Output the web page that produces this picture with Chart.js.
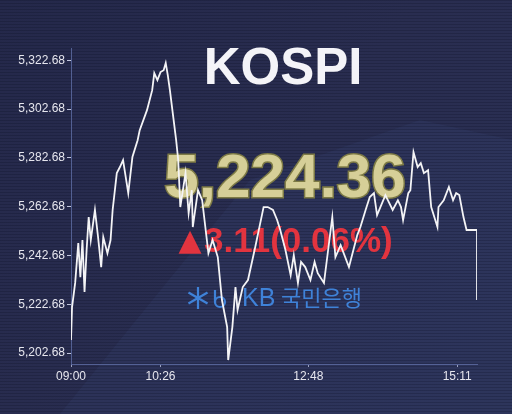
<!DOCTYPE html>
<html><head><meta charset="utf-8">
<script src="https://cdn.jsdelivr.net/npm/chart.js@4.4.1/dist/chart.umd.min.js"></script>
<style>html,body{margin:0;padding:0;background:#272b4b;overflow:hidden}canvas{display:block}</style>
</head><body><canvas id="c" width="512" height="414"></canvas>
<script>
const times = ['09:00','09:01','09:04','09:07','09:09','09:11','09:13','09:15','09:17','09:19','09:23','09:26','09:29','09:31','09:35','09:38','09:40','09:44','09:47','09:50','09:55','09:59','10:04','10:06','10:13','10:18','10:20','10:23','10:26','10:29','10:31','10:33','10:35','10:38','10:41','10:43','10:45','10:50','10:53','10:56','10:57','11:02','11:06','11:12','11:16','11:21','11:25','11:30','11:31','11:35','11:38','11:40','11:45','11:50','11:57','12:05','12:09','12:14','12:18','12:21','12:26','12:31','12:34','12:38','12:41','12:45','12:50','12:54','12:57','13:03','13:07','13:11','13:14','13:19','13:27','13:32','13:35','13:38','13:43','13:47','13:51','13:54','13:58','14:02','14:09','14:14','14:17','14:19','14:24','14:26','14:29','14:33','14:36','14:39','14:43','14:46','14:49','14:52','14:53','14:58','15:03','15:07','15:10','15:13','15:17','15:20','15:30','15:30'];
const values = [5208.0,5221.5,5231.4,5247.7,5233.8,5249.0,5227.7,5244.9,5258.4,5249.0,5261.3,5250.2,5237.9,5250.2,5243.6,5249.0,5261.3,5276.4,5278.9,5281.7,5268.2,5283.0,5289.9,5294.0,5302.2,5310.4,5317.4,5314.5,5317.8,5318.6,5321.5,5316.5,5310.4,5300.2,5289.9,5281.7,5262.5,5276.4,5260.0,5269.4,5254.3,5269.4,5265.3,5243.6,5249.0,5242.0,5224.4,5213.3,5199.8,5213.3,5229.7,5220.3,5229.7,5232.6,5246.1,5262.5,5262.5,5261.3,5257.2,5253.1,5244.9,5234.6,5242.8,5231.4,5240.0,5237.9,5232.6,5240.0,5235.4,5231.4,5244.9,5258.4,5242.0,5246.9,5237.9,5246.1,5251.0,5254.3,5261.3,5266.6,5268.2,5259.2,5263.3,5267.4,5261.3,5265.3,5262.5,5257.2,5268.2,5269.4,5285.0,5278.9,5280.5,5276.4,5277.6,5262.5,5258.4,5254.3,5262.5,5265.3,5270.7,5265.3,5268.2,5267.4,5258.4,5253.1,5253.1,5224.36];
const yTickValues = [5202.68,5222.68,5242.68,5262.68,5282.68,5302.68,5322.68];
const xTickLabels = ['09:00','10:26','12:48','15:11'];
const titleText = 'KOSPI';
const closeText = '5,224.36';
const changeText = '▲3.11(0.06%)';
const bankText = '국민은행';
const bankLatin = 'KB';

const toMin = s => { const [h, m] = s.split(':').map(Number); return (h - 9) * 60 + m; };
const points = times.map((t, i) => ({ x: toMin(t), y: values[i] }));
const xTickMins = xTickLabels.map(toMin);

const bgPlugin = {
  id: 'bg',
  beforeDraw(chart) {
    const ctx = chart.ctx, W = chart.width, H = chart.height;
    ctx.save();
    const g = ctx.createLinearGradient(0, 0, W, H);
    g.addColorStop(0, '#24284a');
    g.addColorStop(0.5, '#292d50');
    g.addColorStop(1, '#2a3054');
    ctx.fillStyle = g;
    ctx.fillRect(0, 0, W, H);
    ctx.beginPath();
    ctx.moveTo(60, H); ctx.lineTo(250, 180); ctx.lineTo(420, 120); ctx.lineTo(512, 140); ctx.lineTo(512, H); ctx.closePath();
    ctx.fillStyle = 'rgba(60,75,130,0.18)';
    ctx.fill();
    ctx.fillStyle = 'rgba(10,12,30,0.22)';
    for (let y = 0; y < H; y += 3) ctx.fillRect(0, y, W, 1);
    ctx.restore();
  }
};

const textPlugin = {
  id: 'texts',
  beforeDatasetsDraw(chart) {
    const ctx = chart.ctx;
    ctx.save();
    ctx.textAlign = 'center';
    ctx.textBaseline = 'middle';
    ctx.fillStyle = '#f4f4f8';
    ctx.font = 'bold 51px "Liberation Sans", Arial, sans-serif';
    ctx.fillText(titleText, 283, 70);
    ctx.font = 'bold 62px "Liberation Sans", Arial, sans-serif';
    ctx.lineWidth = 3;
    ctx.strokeStyle = '#7d7a45';
    ctx.strokeText(closeText, 285, 180);
    ctx.fillStyle = '#d6cf98';
    ctx.fillText(closeText, 285, 180);
    ctx.fillStyle = '#e2343f';
    ctx.textAlign = 'center';
    ctx.font = '30px "DejaVu Sans", sans-serif';
    ctx.fillText(changeText.charAt(0), 190, 242);
    ctx.textAlign = 'left';
    ctx.font = 'bold 35px "Liberation Sans", Arial, sans-serif';
    ctx.fillText(changeText.slice(1), 204, 242);
    ctx.strokeStyle = '#3f82d8';
    ctx.lineWidth = 2.2;
    const cx = 198, cy = 298, r = 11;
    ctx.beginPath();
    for (let k = 0; k < 3; k++) {
      const a = Math.PI / 2 + k * Math.PI / 3;
      ctx.moveTo(cx - r * Math.cos(a), cy - r * Math.sin(a));
      ctx.lineTo(cx + r * Math.cos(a), cy + r * Math.sin(a));
    }
    ctx.stroke();
    ctx.beginPath();
    ctx.arc(220, 302, 5, 0, Math.PI * 2);
    ctx.moveTo(215, 290); ctx.lineTo(215, 302);
    ctx.stroke();
    ctx.fillStyle = '#3f82d8';
    ctx.font = '25px "Liberation Sans", Arial, sans-serif';
    ctx.fillText(bankLatin, 242, 299);
    ctx.font = '22px "Noto Sans CJK KR", sans-serif';
    ctx.fillText(bankText, 281, 298);
    ctx.restore();
  }
};

new Chart(document.getElementById('c'), {
  type: 'line',
  data: {
    datasets: [{
      data: points,
      borderColor: '#f4f4f6',
      borderWidth: 1.8,
      pointRadius: 0,
      tension: 0,
      fill: false
    }]
  },
  options: {
    responsive: false,
    animation: false,
    layout: { padding: { top: 48, right: 35, left: 0, bottom: 0 } },
    plugins: { legend: { display: false }, tooltip: { enabled: false } },
    scales: {
      x: {
        type: 'linear',
        min: 0, max: 390,
        afterBuildTicks(ax) { ax.ticks = xTickMins.map(v => ({ value: v })); },
        afterFit(ax) { ax.height = 50; },
        ticks: {
          autoSkip: false, maxRotation: 0, padding: 2,
          color: '#e6e6ee',
          font: { size: 12, family: '"Liberation Sans", Arial, sans-serif' },
          callback: (v) => xTickLabels[xTickMins.indexOf(v)]
        },
        grid: { drawOnChartArea: false, drawTicks: true, tickLength: 3, tickColor: '#9aa0c0' },
        border: { display: true, color: 'rgba(95,110,165,0.8)', width: 1 }
      },
      y: {
        min: 5198.18, max: 5327.68,
        afterBuildTicks(ax) { ax.ticks = yTickValues.map(v => ({ value: v })); },
        afterFit(ax) { ax.width = 71; },
        ticks: {
          padding: 2,
          color: '#e6e6ee',
          font: { size: 12, family: '"Liberation Sans", Arial, sans-serif' },
          callback: (v) => v.toLocaleString('en-US', { minimumFractionDigits: 2, maximumFractionDigits: 2 })
        },
        grid: { drawOnChartArea: false, drawTicks: true, tickLength: 4, tickColor: '#c0c4dc' },
        border: { display: true, color: 'rgba(95,110,165,0.8)', width: 1 }
      }
    }
  },
  plugins: [bgPlugin, textPlugin]
});
</script></body></html>
